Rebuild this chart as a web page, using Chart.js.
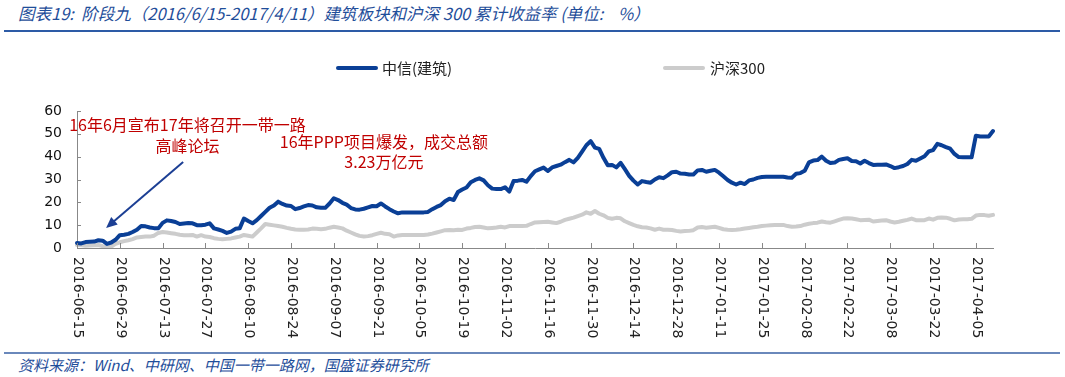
<!DOCTYPE html>
<html>
<head>
<meta charset="utf-8">
<script src="https://cdn.jsdelivr.net/npm/chart.js@4.4.1/dist/chart.umd.min.js"></script>
<style>
  body { margin: 0; background: #fff; width: 1065px; height: 377px; overflow: hidden; position: relative;
         font-family: "Noto Sans CJK SC", sans-serif; }
  #title { position: absolute; left: 18px; top: 1px; font-size: 16.5px; font-style: italic; color: #1f4e9a; white-space: pre; }
  #rule { position: absolute; left: 4px; width: 1056px; top: 30px; border-top: 2px solid #2d5ba6; }
  .leg { position: absolute; top: 58px; font-size: 15px; color: #222; line-height: 20px; }
  .leg i { position: absolute; top: 8px; width: 42px; height: 4px; border-radius: 2px; }
  #foot-rule { position: absolute; left: 4px; width: 1056px; top: 352px; border-top: 2px solid #6a88bb; }
  #foot { position: absolute; left: 18px; top: 354px; font-size: 15px; font-style: italic; color: #1f4e9a; white-space: pre; }
  #wrap { position: absolute; left: 0; top: 0; }
</style>
</head>
<body>
<div id="title">图表19:  阶段九（2016/6/15-2017/4/11）建筑板块和沪深 300 累计收益率 (单位:    %）</div>
<div id="rule"></div>
<div id="wrap"><canvas id="canvas" width="1065" height="345"></canvas></div>
<div class="leg" style="left:336px"><i style="left:0;background:#0a3f96"></i><span style="margin-left:46px">中信(建筑)</span></div>
<div class="leg" style="left:663px"><i style="left:0;background:#cccccc"></i><span style="margin-left:47px">沪深300</span></div>
<div id="foot-rule"></div>
<div id="foot">资料来源：Wind、中研网、中国一带一路网，国盛证券研究所</div>
<script>
// categories: weekdays from the first date (holidays kept as flat values)
const startDate = '2016-06-15';
const pointCount = 215;
const tickLabels = ['2016-06-15', '2016-06-29', '2016-07-13', '2016-07-27', '2016-08-10', '2016-08-24',
  '2016-09-07', '2016-09-21', '2016-10-05', '2016-10-19', '2016-11-02', '2016-11-16', '2016-11-30',
  '2016-12-14', '2016-12-28', '2017-01-11', '2017-01-25', '2017-02-08', '2017-02-22', '2017-03-08',
  '2017-03-22', '2017-04-05'];
const seriesNames = ['中信(建筑)', '沪深300'];

// 中信(建筑) cumulative return, %
const citicBuild = [
  2.2, 2.0, 2.6, 2.7, 2.8, 3.4, 3.2, 1.8, 2.4, 3.6,
  5.6, 5.8, 6.2, 7.0, 8.0, 9.6, 9.5, 9.0, 8.7, 8.6,
  11.0, 12.1, 11.8, 11.4, 10.5, 10.7, 10.9, 10.8, 10.0, 10.0,
  10.2, 10.8, 8.6, 8.1, 7.5, 6.6, 7.2, 8.4, 8.6, 12.9,
  11.8, 10.8, 12.2, 14.0, 15.8, 17.6, 18.6, 20.3, 19.3, 18.6,
  18.4, 17.0, 17.5, 18.2, 18.8, 18.6, 17.8, 17.6, 17.6, 19.5,
  21.8, 21.0, 19.8, 19.0, 17.5, 16.9, 16.8, 17.2, 17.8, 18.4,
  18.3, 19.5, 18.2, 17.0, 16.0, 15.2, 15.6, 15.6, 15.6, 15.6,
  15.6, 15.6, 15.8, 17.0, 18.0, 18.8, 20.5, 21.6, 21.0, 24.5,
  25.6, 26.5, 28.8, 29.8, 30.5, 29.6, 27.5, 26.0, 25.8, 25.8,
  26.6, 24.7, 29.3, 29.5, 29.8, 29.0, 31.5, 33.6, 34.4, 35.2,
  33.7, 35.3, 35.9, 36.5, 37.6, 38.6, 37.5, 39.5, 42.2, 45.0,
  46.8, 44.0, 43.4, 39.5, 36.2, 36.4, 35.3, 37.3, 34.5, 31.6,
  29.5, 27.8, 29.3, 28.9, 28.6, 30.0, 31.0, 30.6, 31.8, 33.2,
  33.4, 32.6, 32.5, 32.2, 32.2, 34.0, 34.2, 33.4, 33.8, 34.2,
  33.0, 31.4, 29.8, 28.6, 27.8, 28.6, 28.0, 29.6, 30.0, 30.7,
  31.1, 31.2, 31.2, 31.2, 31.2, 31.2, 30.9, 30.8, 32.5, 32.8,
  33.8, 37.5, 38.3, 38.5, 40.0, 38.2, 37.2, 37.4, 38.6, 39.0,
  39.3, 38.1, 38.0, 37.0, 38.2, 37.2, 36.4, 36.5, 36.5, 36.6,
  35.9, 35.0, 35.4, 35.9, 36.8, 38.6, 38.2, 39.2, 40.2, 42.3,
  42.9, 45.6, 45.0, 44.2, 43.5, 41.2, 39.8, 39.7, 39.7, 39.7,
  49.2, 48.8, 48.8, 48.8, 51.2
];

// 沪深300 cumulative return, %
const hs300 = [
  1.3, 1.2, 1.0, 1.1, 1.2, 1.3, 0.8, 0.2, 0.6, 1.8,
  2.5, 3.0, 3.4, 3.9, 4.6, 4.8, 5.0, 5.0, 5.4, 6.6,
  7.0, 6.8, 6.5, 6.2, 5.8, 5.6, 5.6, 5.7, 5.0, 5.6,
  5.0, 4.8, 4.3, 4.0, 3.8, 4.0, 4.2, 4.6, 5.0, 5.7,
  5.4, 5.0, 6.8, 8.6, 10.5, 10.2, 9.9, 9.6, 9.3, 8.8,
  8.4, 8.1, 8.0, 8.0, 8.1, 8.5, 8.4, 8.2, 8.4, 8.9,
  9.3, 9.0, 8.6, 7.6, 6.8, 6.0, 5.3, 5.0, 5.2, 5.6,
  6.2, 6.7, 6.2, 6.0, 5.0, 5.5, 5.7, 5.7, 5.7, 5.7,
  5.7, 5.7, 5.9, 6.3, 6.8, 7.3, 7.8, 7.9, 7.8, 8.0,
  7.9, 8.5, 8.8, 9.2, 9.3, 9.0, 8.6, 8.8, 9.0, 9.3,
  9.0, 9.6, 9.6, 9.6, 9.6, 9.7, 10.5, 11.2, 11.3, 11.4,
  11.5, 11.2, 10.9, 11.5, 12.3, 12.8, 13.3, 14.0, 14.6, 15.6,
  15.0, 16.2, 15.0, 14.3, 13.2, 12.8, 13.2, 13.0, 11.7, 10.9,
  10.1, 9.5, 9.1, 9.0, 8.6, 8.0, 8.5, 8.0, 8.0, 7.9,
  7.5, 7.2, 7.4, 7.5, 7.8, 9.0, 9.2, 8.9, 9.1, 9.3,
  8.8, 8.2, 8.0, 7.9, 8.0, 8.2, 8.5, 8.8, 9.1, 9.3,
  9.6, 9.8, 10.0, 10.1, 10.1, 10.1, 9.6, 9.3, 9.4, 9.6,
  10.2, 10.6, 10.9, 11.1, 11.6, 11.3, 11.1, 11.7, 12.3, 12.9,
  13.0, 12.9, 12.6, 12.2, 12.3, 12.4, 11.6, 11.8, 12.0, 12.2,
  11.6, 11.2, 11.5, 11.9, 12.3, 12.9, 12.2, 12.1, 12.2, 12.9,
  12.4, 13.2, 13.4, 13.3, 12.8, 12.1, 12.5, 12.6, 12.6, 12.8,
  14.2, 14.5, 14.4, 14.1, 14.5
];

// red notes, placed in data coords (category index, value)
const notes = [
  { lines: ['16年6月宣布17年将召开一带一路', '高峰论坛'], i: 25.8, v: [53.9, 44.7] },
  { lines: ['16年PPP项目爆发，成交总额', '3.23万亿元'], i: 71.7, v: [46.4, 37.7] }
];
const arrowFrom = { i: 24.8, v: 37.7 };
const arrowTo = { i: 6.8, v: 8.8 };

var dates = [];
var d = new Date(startDate + 'T00:00:00Z');
while (dates.length < pointCount) {
  var wd = d.getUTCDay();
  if (wd != 0 && wd != 6) dates.push(d.toISOString().slice(0, 10));
  d.setUTCDate(d.getUTCDate() + 1);
}

const decor = {
  id: 'decor',
  afterDraw(chart) {
    const c = chart.ctx;
    const xs = chart.scales.x, ys = chart.scales.y;
    const bottom = chart.chartArea.bottom, left = chart.chartArea.left;
    c.save();
    // inward tick marks + rotated date labels
    c.strokeStyle = '#888';
    c.lineWidth = 1;
    c.fillStyle = '#222';
    c.font = '14px "DejaVu Sans"';
    dates.forEach(function (lab, idx) {
      if (tickLabels.indexOf(lab) < 0) return;
      const x = Math.round(xs.getPixelForValue(idx)) + 0.5;
      c.beginPath(); c.moveTo(x, bottom); c.lineTo(x, bottom - 5); c.stroke();
      c.save();
      c.translate(x, bottom + 9);
      c.rotate(Math.PI / 2);
      c.textAlign = 'left';
      c.textBaseline = 'middle';
      c.fillText(lab, 0, 0);
      c.restore();
    });
    for (let v = 10; v <= 60; v += 10) {
      const y = Math.round(ys.getPixelForValue(v)) + 0.5;
      c.beginPath(); c.moveTo(left, y); c.lineTo(left + 4, y); c.stroke();
    }
    // notes
    c.fillStyle = '#c00000';
    c.font = '16px "Noto Sans CJK SC"';
    c.textAlign = 'center';
    c.textBaseline = 'middle';
    notes.forEach(function (n) {
      n.lines.forEach(function (t, k) {
        c.fillText(t, xs.getPixelForValue(n.i), ys.getPixelForValue(n.v[k]));
      });
    });
    // arrow
    const x1 = xs.getPixelForValue(arrowFrom.i), y1 = ys.getPixelForValue(arrowFrom.v);
    const x2 = xs.getPixelForValue(arrowTo.i), y2 = ys.getPixelForValue(arrowTo.v);
    const ang = Math.atan2(y2 - y1, x2 - x1);
    c.strokeStyle = '#1c3f94';
    c.fillStyle = '#1c3f94';
    c.lineWidth = 2;
    c.beginPath();
    c.moveTo(x1, y1);
    c.lineTo(x2 - 8 * Math.cos(ang), y2 - 8 * Math.sin(ang));
    c.stroke();
    c.beginPath();
    c.moveTo(x2, y2);
    c.lineTo(x2 - 11 * Math.cos(ang) + 5 * Math.sin(ang), y2 - 11 * Math.sin(ang) - 5 * Math.cos(ang));
    c.lineTo(x2 - 11 * Math.cos(ang) - 5 * Math.sin(ang), y2 - 11 * Math.sin(ang) + 5 * Math.cos(ang));
    c.closePath();
    c.fill();
    c.restore();
  }
};

const ctx = document.getElementById('canvas');
new Chart(ctx, {
  type: 'line',
  data: {
    labels: dates,
    datasets: [
      {
        label: seriesNames[0],
        data: citicBuild,
        borderColor: '#0a3f96',
        borderWidth: 4,
        pointRadius: 0,
        borderJoinStyle: 'round',
        borderCapStyle: 'round',
      },
      {
        label: seriesNames[1],
        data: hs300,
        borderColor: '#cccccc',
        borderWidth: 4,
        pointRadius: 0,
        borderJoinStyle: 'round',
        borderCapStyle: 'round',
      },
    ],
  },
  options: {
    responsive: false,
    animation: false,
    devicePixelRatio: 1,
    layout: { padding: { top: 111, right: 72, left: 0, bottom: 0 } },
    elements: { line: { tension: 0 } },
    plugins: { legend: { display: false }, tooltip: { enabled: false } },
    scales: {
      x: {
        type: 'category',
        offset: false,
        grid: { display: false },
        ticks: { display: false },
        border: { display: true, color: '#888', width: 1 },
        afterFit: function (s) { s.height = 97; },
      },
      y: {
        min: 0,
        max: 60,
        ticks: { stepSize: 10, padding: 15, color: '#111', font: { family: 'DejaVu Sans', size: 14 } },
        grid: { display: false, drawTicks: false },
        border: { display: true, color: '#888', width: 1 },
        afterFit: function (s) { s.width = 77; },
      },
    },
  },
  plugins: [decor],
});
</script>
</body>
</html>
